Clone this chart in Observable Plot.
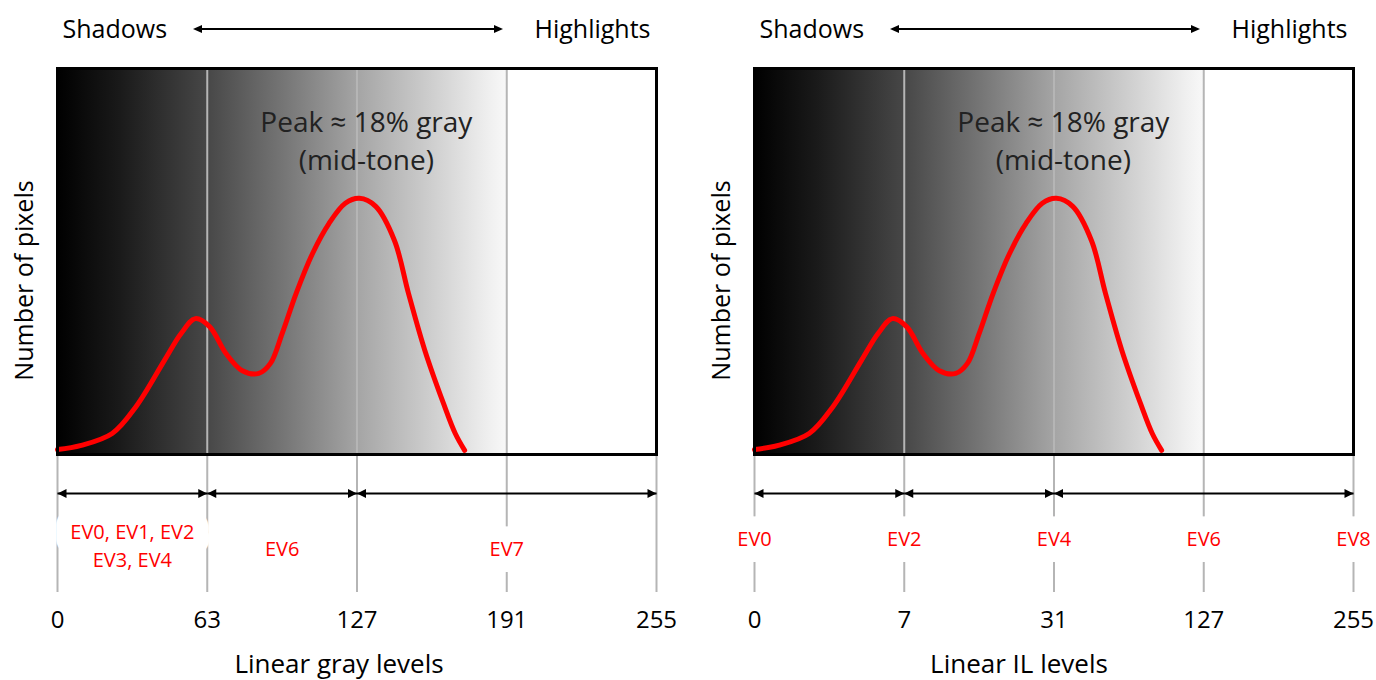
<!DOCTYPE html>
<html>
<head>
<meta charset="utf-8">
<script src="https://cdn.jsdelivr.net/npm/d3@7"></script>
<script src="https://cdn.jsdelivr.net/npm/@observablehq/plot@0.6"></script>
<style>
  body { margin: 0; background: #fff; }
  #figure { display: flex; width: 1376px; height: 680px; background: #fff; }
</style>
</head>
<body>
<div id="figure"></div>
<script>
// Sketched histogram: pixel count (relative) per linear gray level
const levels = [0, 10, 23, 33, 45, 52, 58, 64, 71, 78, 85, 90, 95, 101, 108, 115, 122, 128, 135, 143, 149, 156, 164, 169, 173];
const counts = [0.5, 1.6, 4.7, 11.7, 23.8, 30.8, 34.7, 32.6, 25.6, 21.1, 20.4, 23.0, 30.8, 41.3, 51.7, 59.5, 64.8, 66.1, 64.0, 55.1, 41.3, 26.4, 12.5, 4.7, 0.3];

// Left panel: linear gray levels, grouped into exposure bands
const grayTicks = [0, 63, 127, 191, 255];
const grayBands = [[0, 63], [63, 127], [127, 255]];
const grayBandLabels = ["EV0, EV1, EV2\nEV3, EV4", "EV6", "EV7"];

// Right panel: linear IL levels, one EV stop per tick
const ilTicks = [0, 7, 31, 127, 255];
const ilStopLabels = ["EV0", "EV2", "EV4", "EV6", "EV8"];
const ilBands = [[0, 7], [7, 31], [31, 255]];

const peakNote = "Peak \u2248 18% gray\n(mid-tone)";
const yTitle = "Number of pixels";
const shadowsLabel = "Shadows";
const highlightsLabel = "Highlights";

// tone fade used behind the histogram (black to near white)
const fadeStops = [[0, "#000000"], [0.14, "#1a1a1a"], [0.33, "#464646"], [0.51, "#777777"],
                   [0.67, "#a5a5a5"], [0.84, "#d0d0d0"], [0.96, "#efefef"], [1, "#f8f8f8"]];

const NS = "http://www.w3.org/2000/svg";
function el(tag, attrs = {}) {
  const node = document.createElementNS(NS, tag);
  for (const [k, v] of Object.entries(attrs)) node.setAttribute(k, v);
  return node;
}

function gradientDefs(id) {
  return () => {
    const defs = el("defs");
    const grad = el("linearGradient", {id, x1: 0, y1: 0, x2: 1, y2: 0});
    for (const [offset, color] of fadeStops) grad.append(el("stop", {offset, "stop-color": color}));
    defs.append(grad);
    return defs;
  };
}

// double-headed "Shadows <-> Highlights" arrow above the frame
function headerArrow(index, scales, values, dimensions) {
  const {width, marginLeft, marginRight, marginTop} = dimensions;
  const x1 = marginLeft + 136, x2 = width - marginRight - 153, y = marginTop - 39;
  const g = el("g");
  g.append(el("line", {x1: x1 + 4, x2: x2 - 4, y1: y, y2: y, stroke: "black", "stroke-width": 2}));
  g.append(el("path", {d: `M${x1},${y}L${x1 + 9},${y - 4}L${x1 + 9},${y + 4}Z`, fill: "black"}));
  g.append(el("path", {d: `M${x2},${y}L${x2 - 9},${y - 4}L${x2 - 9},${y + 4}Z`, fill: "black"}));
  return g;
}

// red EV labels below the frame; a white knock-out pass first clears the grid rules behind them
function evLabels(data, options) {
  const base = {fontSize: 20, frameAnchor: "bottom", lineAnchor: "bottom", ...options};
  return [
    Plot.text(data, {...base, fill: "white", stroke: "white", strokeWidth: 32}),
    Plot.text(data, {...base, fill: "#ff0000"})
  ];
}

function panel({width, marginLeft, marginRight, ticks, bands, toX, xTitle, titleShift, gradientId, stopMarks}) {
  const histogram = levels.map((level, i) => ({x: toX(level), count: counts[i]}));
  const peak = histogram[d3.maxIndex(histogram, d => d.count)];
  const spans = bands.map(([from, to]) => ({from, to}));
  // ticks sit at equal steps across the frame (piecewise-linear scale)
  const step = (width - marginLeft - marginRight) / (ticks.length - 1);
  const xRange = ticks.map((_, i) => marginLeft + i * step);
  return Plot.plot({
    width, height: 680,
    marginTop: 68, marginBottom: 226, marginLeft, marginRight,
    style: {fontFamily: "'Open Sans', sans-serif", fontSize: "24px", color: "black", background: "white", overflow: "visible"},
    x: {type: "linear", domain: ticks, range: xRange, label: null},
    y: {domain: [0, 100], insetBottom: 3, axis: null, label: null},
    marks: [
      gradientDefs(gradientId),
      Plot.rect([{from: ticks[0], to: ticks[3]}], {x1: "from", x2: "to", fill: `url(#${gradientId})`}),
      Plot.ruleX(ticks, {stroke: "#b5b5b5", strokeWidth: 2, insetBottom: -138}),
      Plot.line(histogram, {x: "x", y: "count", stroke: "#ff0000", strokeWidth: 5, curve: "catmull-rom"}),
      Plot.frame({stroke: "black", strokeWidth: 3}),
      Plot.text([peak], {x: "x", y: "count", text: () => peakNote, dx: 7, dy: -28,
        lineAnchor: "bottom", lineHeight: 1.37, fontSize: 28, fill: "#222"}),
      // exposure bands as double-headed arrows
      Plot.link(spans, {x1: "from", x2: "to", y1: 0, y2: 0, dy: 42, stroke: "black", strokeWidth: 2}),
      Plot.vector(spans, {x: "to", y: 0, dy: 42, rotate: 90, length: 9, r: 4.5, shape: "spike",
        anchor: "end", fill: "black", stroke: "none"}),
      Plot.vector(spans, {x: "from", y: 0, dy: 42, rotate: -90, length: 9, r: 4.5, shape: "spike",
        anchor: "end", fill: "black", stroke: "none"}),
      stopMarks,
      Plot.axisX(ticks, {tickSize: 0, tickPadding: 156, fontSize: 24, label: null}),
      Plot.text([xTitle], {frameAnchor: "bottom", lineAnchor: "bottom", dy: 218, dx: titleShift, fontSize: 26}),
      Plot.text([yTitle], {frameAnchor: "left", textAnchor: "middle", rotate: -90, dx: -33, dy: 19, fontSize: 25}),
      Plot.text([shadowsLabel], {frameAnchor: "top-left", textAnchor: "start", lineAnchor: "bottom",
        dx: 5, dy: -31, fontSize: 25}),
      Plot.text([highlightsLabel], {frameAnchor: "top-right", textAnchor: "end", lineAnchor: "bottom",
        dx: -6, dy: -31, fontSize: 25}),
      headerArrow
    ]
  });
}

const grayBandRows = grayBands.map(([from, to], i) => ({from, to, label: grayBandLabels[i]}));
const twoLine = d => d.label.includes("\n");
const bandCenter = d => (d.from + d.to) / 2;

const left = panel({
  width: 697, marginLeft: 57, marginRight: 41,
  ticks: grayTicks, bands: grayBands, toX: level => level,
  xTitle: "Linear gray levels", titleShift: -18, gradientId: "fade-gray",
  stopMarks: [
    evLabels(grayBandRows, {filter: twoLine, x: bandCenter, text: "label", lineHeight: 1.4, dy: 112}),
    evLabels(grayBandRows, {filter: d => !twoLine(d), x: bandCenter, text: "label", dy: 101})
  ]
});

const grayToIL = d3.scaleLinear(grayTicks, ilTicks);
const right = panel({
  width: 679, marginLeft: 57, marginRight: 23,
  ticks: ilTicks, bands: ilBands, toX: level => grayToIL(level),
  xTitle: "Linear IL levels", titleShift: -35, gradientId: "fade-il",
  stopMarks: evLabels(ilTicks, {x: d => d, text: (d, i) => ilStopLabels[i], dy: 91})
});

document.getElementById("figure").append(left, right);
</script>
</body>
</html>
